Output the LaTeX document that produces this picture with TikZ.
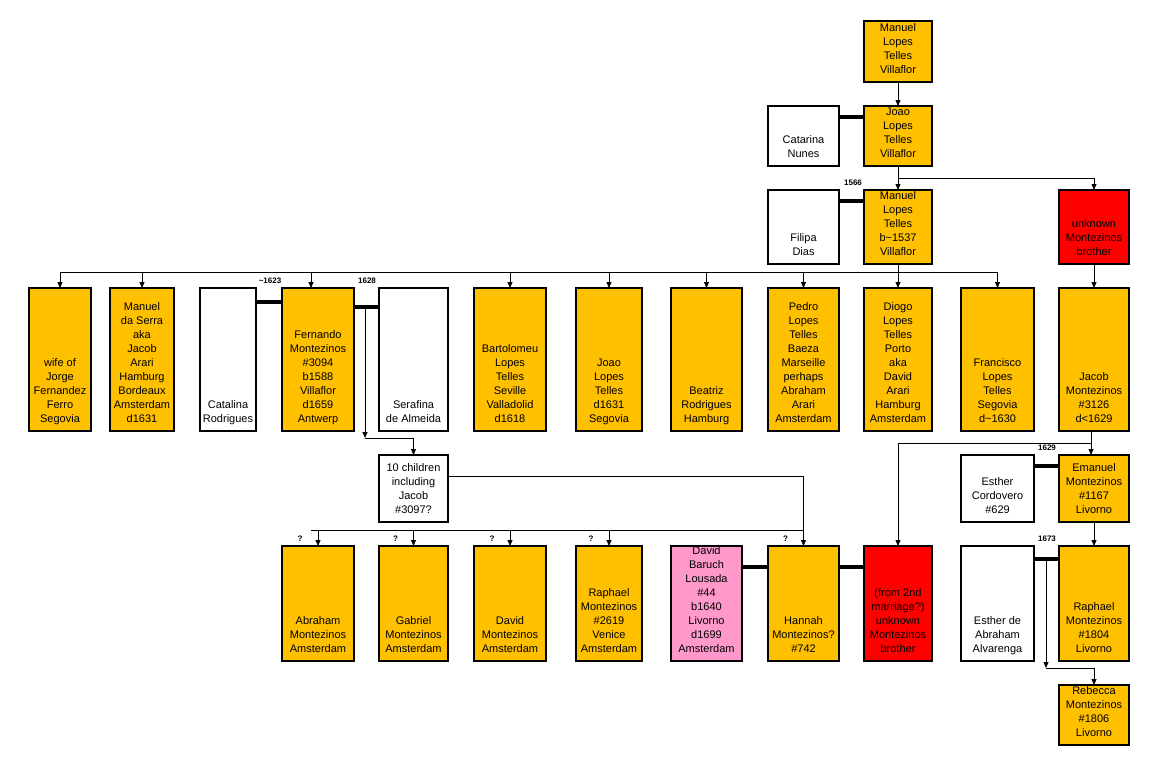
\documentclass[tikz,border=0pt]{standalone}
\usepackage{fontspec}
\setmainfont{Liberation Sans}
\usetikzlibrary{arrows.meta}
\definecolor{gold}{RGB}{255,192,0}
\definecolor{rose}{RGB}{255,153,204}
\newcommand{\who}[3]{\parbox[c][\dimexpr#2pt-10pt\relax][b]{#1pt}{\centering#3\strut}}

\begin{document}
\begin{tikzpicture}[
    x=1pt, y=-1pt,
    >={Triangle[length=6pt,width=5pt]},
    every node/.style={
        font=\fontsize{11}{14}\selectfont,
    },
    person/.style={draw, line width=2.2pt, anchor=north west, inner xsep=0pt, inner ysep=5pt, outer sep=0pt},
    bar/.style={line width=4.5pt},
    kid/.style={->, line width=0.8pt},
    year/.style={font=\fontsize{8}{9}\selectfont\bfseries},
]
    \useasboundingbox (0,0) rectangle (1157,764);
    % oldest generations
    \node[person, fill=gold] (top) at (864,21) {\who{68}{57}{Manuel\\Lopes\\Telles\\Villaflor}};
    \node[person, fill=white] (catarina) at (768,106) {\who{71}{56}{Catarina\\Nunes}};
    \node[person, fill=gold] (joao) at (864,106) {\who{68}{56}{Joao\\Lopes\\Telles\\Villaflor}};
    \node[person, fill=white] (filipa) at (768,190) {\who{71}{70}{Filipa\\Dias}};
    \node[person, fill=gold] (manuel) at (864,190) {\who{68}{70}{Manuel\\Lopes\\Telles\\b\textasciitilde1537\\Villaflor}};
    \node[person, fill=red] (brother) at (1059,190) {\who{70}{70}{unknown\\Montezinos\\brother}};
    % children of Manuel
    \node[person, fill=gold] (wife) at (29,288) {\who{62}{139}{wife of\\Jorge\\Fernandez\\Ferro\\Segovia}};
    \node[person, fill=gold] (serra) at (110,288) {\who{64}{139}{Manuel\\da Serra\\aka\\Jacob\\Arari\\Hamburg\\Bordeaux\\Amsterdam\\d1631}};
    \node[person, fill=white] (catalina) at (200,288) {\who{56}{139}{Catalina\\Rodrigues}};
    \node[person, fill=gold] (fernando) at (282,288) {\who{72}{139}{Fernando\\Montezinos\\\#3094\\b1588\\Villaflor\\d1659\\Antwerp}};
    \node[person, fill=white] (serafina) at (379,288) {\who{69}{139}{Serafina\\de Almeida}};
    \node[person, fill=gold] (bartolomeu) at (474,288) {\who{72}{139}{Bartolomeu\\Lopes\\Telles\\Seville\\Valladolid\\d1618}};
    \node[person, fill=gold] (joaoii) at (576,288) {\who{66}{139}{Joao\\Lopes\\Telles\\d1631\\Segovia}};
    \node[person, fill=gold] (beatriz) at (671,288) {\who{71}{139}{Beatriz\\Rodrigues\\Hamburg}};
    \node[person, fill=gold] (pedro) at (768,288) {\who{71}{139}{Pedro\\Lopes\\Telles\\Baeza\\Marseille\\perhaps\\Abraham\\Arari\\Amsterdam}};
    \node[person, fill=gold] (diogo) at (864,288) {\who{68}{139}{Diogo\\Lopes\\Telles\\Porto\\aka\\David\\Arari\\Hamburg\\Amsterdam}};
    \node[person, fill=gold] (francisco) at (961,288) {\who{73}{139}{Francisco\\Lopes\\Telles\\Segovia\\d\textasciitilde1630}};
    \node[person, fill=gold] (jacob) at (1059,288) {\who{70}{139}{Jacob\\Montezinos\\\#3126\\d<1629}};
    % next generation
    \node[person, fill=white] (tenkids) at (379,455) {\who{69}{63}{10 children\\including\\Jacob\\\#3097?}};
    \node[person, fill=white] (esther) at (961,455) {\who{73}{63}{Esther\\Cordovero\\\#629}};
    \node[person, fill=gold] (emanuel) at (1059,455) {\who{70}{63}{Emanuel\\Montezinos\\\#1167\\Livorno}};
    \node[person, fill=gold] (abraham) at (282,546) {\who{72}{111}{Abraham\\Montezinos\\Amsterdam}};
    \node[person, fill=gold] (gabriel) at (379,546) {\who{69}{111}{Gabriel\\Montezinos\\Amsterdam}};
    \node[person, fill=gold] (david) at (474,546) {\who{72}{111}{David\\Montezinos\\Amsterdam}};
    \node[person, fill=gold] (raphael) at (576,546) {\who{66}{111}{Raphael\\Montezinos\\\#2619\\Venice\\Amsterdam}};
    \node[person, fill=rose] (baruch) at (671,546) {\who{71}{111}{David\\Baruch\\Lousada\\\#44\\b1640\\Livorno\\d1699\\Amsterdam}};
    \node[person, fill=gold] (hannah) at (768,546) {\who{71}{111}{Hannah\\Montezinos?\\\#742}};
    \node[person, fill=red] (second) at (864,546) {\who{68}{111}{(from 2nd\\marriage?)\\unknown\\Montezinos\\brother}};
    \node[person, fill=white] (alvarenga) at (961,546) {\who{73}{111}{Esther de\\Abraham\\Alvarenga}};
    \node[person, fill=gold] (raphaelii) at (1059,546) {\who{70}{111}{Raphael\\Montezinos\\\#1804\\Livorno}};
    \node[person, fill=gold] (rebecca) at (1059,685) {\who{70}{56}{Rebecca\\Montezinos\\\#1806\\Livorno}};
    % marriages
    \draw[bar] ([yshift=-11pt]catarina.north east) -- ([yshift=-11pt]joao.north west);
    \draw[bar] ([yshift=-11pt]filipa.north east) -- ([yshift=-11pt]manuel.north west);
    \draw[bar] ([yshift=-14pt]catalina.north east) -- ([yshift=-14pt]fernando.north west);
    \draw[bar] ([yshift=-19pt]fernando.north east) -- ([yshift=-19pt]serafina.north west);
    \draw[bar] ([yshift=-11pt]esther.north east) -- ([yshift=-11pt]emanuel.north west);
    \draw[bar] ([yshift=-13pt]alvarenga.north east) -- ([yshift=-13pt]raphaelii.north west);
    \draw[bar] ([yshift=-21pt]baruch.north east) -- ([yshift=-21pt]hannah.north west);
    \draw[bar] ([yshift=-21pt]hannah.north east) -- ([yshift=-21pt]second.north west);
    \node[year] (y1566) at (853,183) {1566};
    \node[year] (y1623) at (270,281) {\textasciitilde1623};
    \node[year] (y1628) at (367,281) {1628};
    \node[year] (y1629) at (1047,448) {1629};
    \node[year] (y1673) at (1047,539) {1673};
    % descent
    \draw[kid] (top.south) -- (joao.north);
    \draw[kid] (joao.south) -- (manuel.north);
    \draw[kid] ([yshift=-12pt]joao.south) -| (brother.north);
    \draw[kid] (brother.south) -- (jacob.north);
    \draw[kid] (manuel.south) -- (diogo.north);
    \coordinate (sibs) at (61,272);
    \draw[line width=0.8pt] (wife.north |- sibs) -- (francisco.north |- sibs);
    \draw[kid] (wife.north |- sibs) -- (wife.north);
    \draw[kid] (serra.north |- sibs) -- (serra.north);
    \draw[kid] ([xshift=-7pt]fernando.north |- sibs) -- ([xshift=-7pt]fernando.north);
    \draw[kid] (bartolomeu.north |- sibs) -- (bartolomeu.north);
    \draw[kid] (joaoii.north |- sibs) -- (joaoii.north);
    \draw[kid] (beatriz.north |- sibs) -- (beatriz.north);
    \draw[kid] (pedro.north |- sibs) -- (pedro.north);
    \draw[kid] (francisco.north |- sibs) -- (francisco.north);
    \coordinate (drop1) at (365,438);
    \draw[kid] ([xshift=11pt,yshift=-19pt]fernando.north east) -- (drop1);
    \draw[kid] (drop1) -| (tenkids.north);
    \draw[kid] ([yshift=12pt]tenkids.east) -| (hannah.north);
    \coordinate (sibs2) at (311,530);
    \draw[line width=0.8pt] (sibs2) -- (hannah.north |- sibs2);
    \draw[kid] (abraham.north |- sibs2) -- (abraham.north);
    \draw[kid] (gabriel.north |- sibs2) -- (gabriel.north);
    \draw[kid] (david.north |- sibs2) -- (david.north);
    \draw[kid] (raphael.north |- sibs2) -- (raphael.north);
    \node[year] (q1) at ([xshift=-18pt,yshift=7pt]abraham.north) {?};
    \node[year] (q2) at ([xshift=-18pt,yshift=7pt]gabriel.north) {?};
    \node[year] (q3) at ([xshift=-18pt,yshift=7pt]david.north) {?};
    \node[year] (q4) at ([xshift=-18pt,yshift=7pt]raphael.north) {?};
    \node[year] (q5) at ([xshift=-18pt,yshift=7pt]hannah.north) {?};
    \draw[kid] ([xshift=-3pt]jacob.south) -- ([xshift=-3pt]emanuel.north);
    \draw[kid] ([xshift=-3pt,yshift=-12pt]jacob.south) -| (second.north);
    \draw[kid] (emanuel.south) -- (raphaelii.north);
    \coordinate (drop2) at (1046,668);
    \draw[kid] ([xshift=12pt,yshift=-13pt]alvarenga.north east) -- (drop2);
    \draw[kid] (drop2) -| (rebecca.north);
\end{tikzpicture}
\end{document}
